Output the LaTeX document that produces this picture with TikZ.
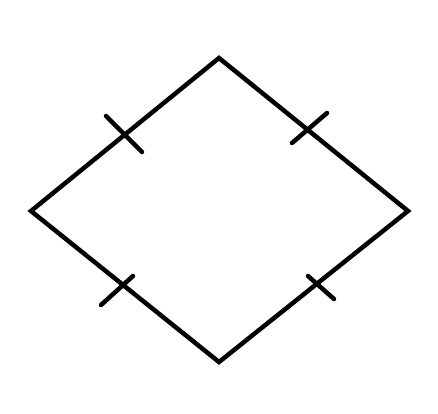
\documentclass[tikz,border=0pt]{standalone}
\begin{document}
\begin{tikzpicture}[x=1pt,y=-1pt,
  edge/.style={line width=4.5pt,line join=miter,black},
  tick/.style={line width=4.5pt,line cap=round,black}]
\useasboundingbox (0,0) rectangle (438,413);
\coordinate (T) at (219,58);
\coordinate (R) at (408,211);
\coordinate (B) at (219,362);
\coordinate (L) at (31,211);
\draw[edge] (T) -- (R) -- (B) -- (L) -- cycle;
% ticks
\coordinate (t1a) at (106,116); \coordinate (t1b) at (142,152);
\coordinate (t2a) at (292,143); \coordinate (t2b) at (327,113);
\coordinate (t3a) at (101,305); \coordinate (t3b) at (133,276);
\coordinate (t4a) at (308,276); \coordinate (t4b) at (334,299);
\draw[tick] (t1a) -- (t1b);
\draw[tick] (t2a) -- (t2b);
\draw[tick] (t3a) -- (t3b);
\draw[tick] (t4a) -- (t4b);
\end{tikzpicture}
\end{document}
